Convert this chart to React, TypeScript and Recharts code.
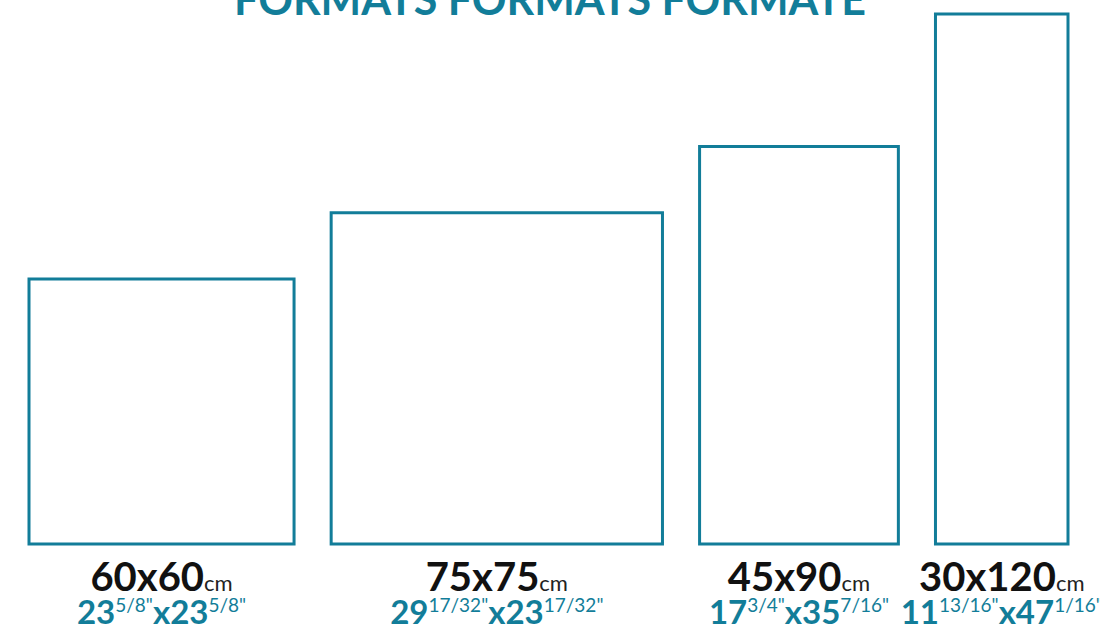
import React from "react";
import { ComposedChart, XAxis, YAxis, ReferenceArea, Scatter } from "recharts";

// formats en cm (largeur x hauteur)
const formats = ["60x60", "75x75", "45x90", "30x120"];
const largeursCm = [60, 75, 45, 30];
const hauteursCm = [60, 75, 90, 120];
// équivalents en pouces
const poucesEntiers = [
  ["23", "23"],
  ["29", "23"],
  ["17", "35"],
  ["11", "47"],
];
const poucesFractions = [
  ["5/8", "5/8"],
  ["17/32", "17/32"],
  ["3/4", "7/16"],
  ["13/16", "1/16"],
];

const TEAL = "#127D99";
const ECART = 8.4; // espace entre les carreaux, en cm

// position gauche de chaque carreau
const departs: number[] = [];
largeursCm.reduce((acc, l) => {
  departs.push(acc);
  return acc + l + ECART;
}, 0);
const totalX = departs[departs.length - 1] + largeursCm[largeursCm.length - 1];

const lignes = formats.map((f, i) => ({
  nom: f,
  x: departs[i] + largeursCm[i] / 2,
  y: hauteursCm[i],
}));

function Etiquette({ viewBox, i }: any) {
  if (!viewBox) return null;
  const cx = viewBox.x + viewBox.width / 2;
  const bas = viewBox.y + viewBox.height;
  return (
    <g fontFamily="Lato, 'Open Sans', sans-serif">
      <text x={cx} y={bas + 47} textAnchor="middle">
        <tspan fontSize={40} fontWeight={700} fill="#111">
          {formats[i]}
        </tspan>
        <tspan fontSize={22} fill="#222">
          cm
        </tspan>
      </text>
      <text x={cx} y={bas + 80} textAnchor="middle" fill={TEAL}>
        <tspan fontSize={33} fontWeight={700}>
          {poucesEntiers[i][0]}
        </tspan>
        <tspan fontSize={19} dy={-12}>
          {poucesFractions[i][0]}"
        </tspan>
        <tspan fontSize={33} fontWeight={700} dy={12}>
          x{poucesEntiers[i][1]}
        </tspan>
        <tspan fontSize={19} dy={-12}>
          {poucesFractions[i][1]}"
        </tspan>
      </text>
    </g>
  );
}

export default function App() {
  return (
    <div
      style={{
        position: "absolute",
        left: 0,
        top: 0,
        width: 1100,
        height: 628,
        background: "#fff",
        overflow: "hidden",
      }}
    >
      <div
        style={{
          position: "absolute",
          left: 0,
          width: 1100,
          top: -23,
          textAlign: "center",
          color: TEAL,
          fontFamily: "Lato, 'Open Sans', sans-serif",
          fontWeight: 700,
          fontSize: 43,
          lineHeight: "43px",
        }}
      >
        FORMATS FORMATS FORMATE
      </div>
      <ComposedChart
        width={1100}
        height={628}
        data={lignes}
        margin={{ top: 14, right: 32, left: 29, bottom: 84 }}
        style={{ overflow: "visible" }}
      >
        <XAxis type="number" dataKey="x" domain={[0, totalX]} hide />
        <YAxis type="number" dataKey="y" domain={[0, 120]} hide />
        <Scatter
          dataKey="y"
          fill="none"
          shape={() => <g />}
          isAnimationActive={false}
        />
        {formats.map((f, i) => (
          <ReferenceArea
            key={f}
            x1={departs[i]}
            x2={departs[i] + largeursCm[i]}
            y1={0}
            y2={hauteursCm[i]}
            fill="#fff"
            fillOpacity={1}
            stroke={TEAL}
            strokeWidth={3}
            ifOverflow="visible"
            label={(props: any) => <Etiquette {...props} i={i} />}
          />
        ))}
      </ComposedChart>
    </div>
  );
}
